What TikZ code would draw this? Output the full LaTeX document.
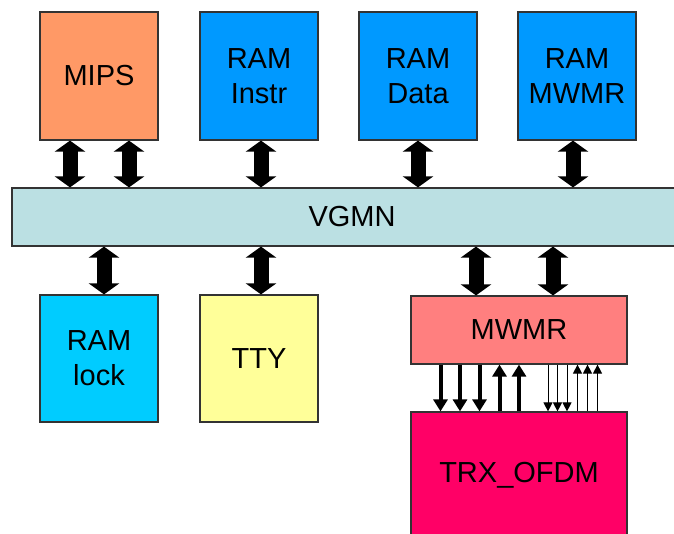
\documentclass[tikz,border=0pt]{standalone}
\usepackage{fontspec}
\setmainfont{Liberation Sans}
\usetikzlibrary{arrows.meta,calc}
\definecolor{cmips}{HTML}{FF9966}
\definecolor{cram}{HTML}{0099FF}
\definecolor{clock}{HTML}{00CCFF}
\definecolor{ctty}{HTML}{FFFF99}
\definecolor{cbus}{HTML}{BBE0E3}
\definecolor{cmwmr}{HTML}{FF7F7F}
\definecolor{ctrx}{HTML}{FF0066}
\definecolor{cborder}{HTML}{333333}
\begin{document}
\begin{tikzpicture}[x=1pt,y=-1pt,
  box/.style={draw=cborder,line width=1.2pt,rectangle,inner sep=0pt,align=center,
    font=\fontsize{29}{35}\selectfont,text=black},
  bigarrow/.style={line width=15pt,black,{Triangle[width=30pt,length=11pt]}-{Triangle[width=30pt,length=11pt]}},
  thickdown/.style={line width=4pt,black,-{Triangle[width=14pt,length=12pt]}},
  thindown/.style={line width=1pt,black,-{Triangle[width=9pt,length=9pt]}}
]
\useasboundingbox (0,0) rectangle (674,533);
\clip (0,0) rectangle (674,533);
% top row
\node[box,fill=cmips,minimum width=118pt,minimum height=128pt] (mips) at (99,76) {MIPS};
\node[box,fill=cram,minimum width=118pt,minimum height=128pt] (rinstr) at (259,76) {RAM\\Instr};
\node[box,fill=cram,minimum width=118pt,minimum height=128pt] (rdata) at (418,76) {RAM\\Data};
\node[box,fill=cram,minimum width=118pt,minimum height=128pt] (rmwmr) at (577,76) {RAM\\MWMR};
% bus
\node[box,fill=cbus,minimum width=680pt,minimum height=58pt] (bus) at (352,217) {VGMN};
% bottom row
\node[box,fill=clock,minimum width=118pt,minimum height=127pt] (rlock) at (99,358.5) {RAM\\lock};
\node[box,fill=ctty,minimum width=118pt,minimum height=127pt] (tty) at (259,358.5) {TTY};
\node[box,fill=cmwmr,minimum width=216pt,minimum height=68pt] (mwmr) at (519,330) {MWMR};
\node[box,fill=ctrx,minimum width=216pt,minimum height=140pt] (trx) at (519,482) {};
\node[font=\fontsize{29}{35}\selectfont] (trxlabel) at (519,475) {TRX\_OFDM};
% big arrows top
\draw[bigarrow] ([xshift=-29pt]mips.south) -- ([xshift=-29pt]mips.south |- bus.north);
\draw[bigarrow] ([xshift=30pt]mips.south) -- ([xshift=30pt]mips.south |- bus.north);
\draw[bigarrow] ([xshift=2pt]rinstr.south) -- ([xshift=2pt]rinstr.south |- bus.north);
\draw[bigarrow] (rdata.south) -- (rdata.south |- bus.north);
\draw[bigarrow] ([xshift=-4pt]rmwmr.south) -- ([xshift=-4pt]rmwmr.south |- bus.north);
% big arrows bottom
\draw[bigarrow] ([xshift=5pt]rlock.north |- bus.south) -- ([xshift=5pt]rlock.north);
\draw[bigarrow] ([xshift=2pt]tty.north |- bus.south) -- ([xshift=2pt]tty.north);
\draw[bigarrow] ([xshift=-43pt]mwmr.north |- bus.south) -- ([xshift=-43pt]mwmr.north);
\draw[bigarrow] ([xshift=34pt]mwmr.north |- bus.south) -- ([xshift=34pt]mwmr.north);
% small arrows between MWMR and TRX
\foreach \dx in {-78.5,-59,-39.5}{
  \draw[thickdown] ([xshift=\dx pt]mwmr.south) -- ([xshift=\dx pt]mwmr.south |- trx.north);}
\foreach \dx in {-19.5,0}{
  \draw[thickdown] ([xshift=\dx pt]mwmr.south |- trx.north) -- ([xshift=\dx pt]mwmr.south);}
\foreach \dx in {29,38.5,48}{
  \draw[thindown] ([xshift=\dx pt]mwmr.south) -- ([xshift=\dx pt]mwmr.south |- trx.north);}
\foreach \dx in {58.5,68.5,78.5}{
  \draw[thindown] ([xshift=\dx pt]mwmr.south |- trx.north) -- ([xshift=\dx pt]mwmr.south);}
\end{tikzpicture}
\end{document}
